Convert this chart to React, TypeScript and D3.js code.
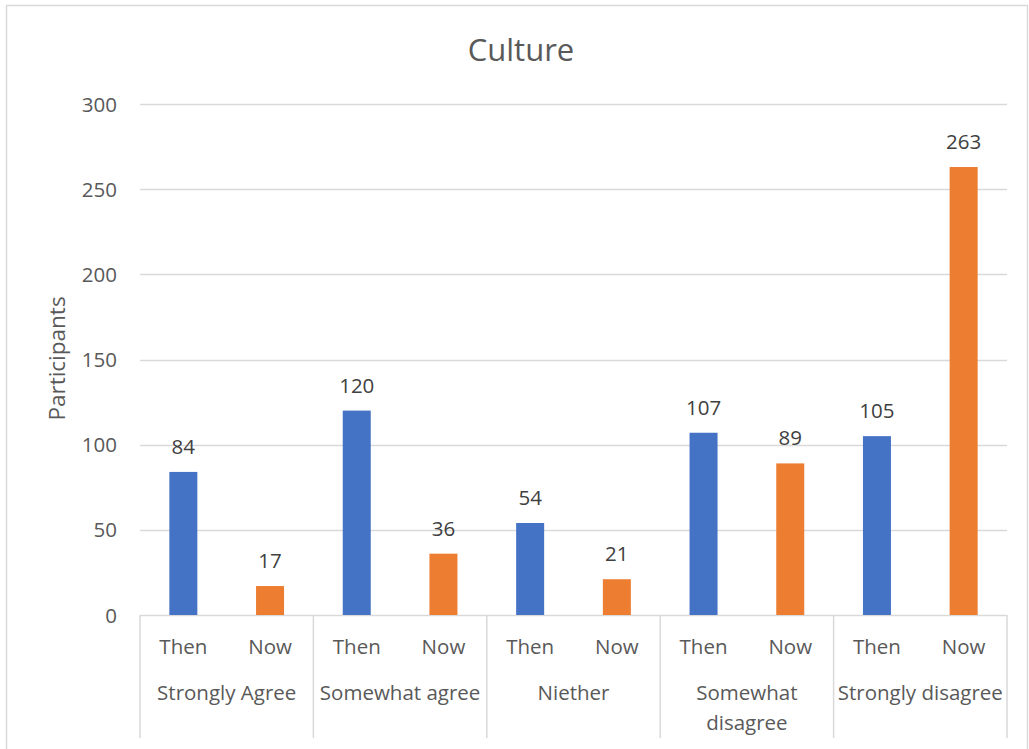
import React from "react";
import * as d3 from "d3";

const groups = ["Strongly Agree", "Somewhat agree", "Niether", "Somewhat disagree", "Strongly disagree"];
const groupLines = [["Strongly Agree"], ["Somewhat agree"], ["Niether"], ["Somewhat", "disagree"], ["Strongly disagree"]];
const periods = ["Then", "Now"];
const thenValues = [84, 120, 54, 107, 105];
const nowValues = [17, 36, 21, 89, 263];
const yTicks = [0, 50, 100, 150, 200, 250, 300];
const colors = { Then: "#4472C4", Now: "#ED7D31" };

const W = 1029;
const H = 749;
const FONT = "'Open Sans', sans-serif";
const TEXT = "#595959";
const GRID = "#d9d9d9";
const LABEL_SIZE = 20.5;

export default function App() {
  const left = 140;
  const right = 1007;
  const top = 104;
  const bottom = 615;

  const x0 = d3.scaleBand<string>().domain(groups).range([left, right]).padding(0);
  const x1 = d3.scaleBand<string>().domain(periods).range([0, x0.bandwidth()]).padding(0);
  const y = d3.scaleLinear().domain([0, 300]).range([bottom, top]);
  const barW = 28;

  const rows = groups.map((g, i) => ({ g, i, vals: [thenValues[i], nowValues[i]] }));

  return (
    <svg width={W} height={H} style={{ position: "absolute", left: 0, top: 0, background: "#fff" }}>
      <rect x={6.5} y={5.5} width={W - 8} height={H} fill="#fff" stroke={GRID} strokeWidth={1.5} />
      <text x={521} y={61} textAnchor="middle" fontFamily={FONT} fontSize={31} fill={TEXT}>
        Culture
      </text>
      {yTicks.map((t) => (
        <g key={t}>
          <line x1={left} x2={right} y1={Math.round(y(t)) + 0.5} y2={Math.round(y(t)) + 0.5} stroke={GRID} strokeWidth={1.5} />
          <text x={117} y={y(t) + 7.5} textAnchor="end" fontFamily={FONT} fontSize={LABEL_SIZE} fill={TEXT}>
            {t}
          </text>
        </g>
      ))}
      <text
        transform={`translate(65,358.5) rotate(-90)`}
        textAnchor="middle"
        fontFamily={FONT}
        fontSize={22.5}
        fill={TEXT}
      >
        Participants
      </text>
      {rows.map(({ g, i, vals }) =>
        periods.map((p, j) => {
          const cx = (x0(g) as number) + (x1(p) as number) + x1.bandwidth() / 2;
          const v = vals[j];
          return (
            <g key={g + p}>
              <rect x={cx - barW / 2} y={y(v)} width={barW} height={y(0) - y(v)} fill={colors[p as "Then" | "Now"]} />
              <text x={cx} y={y(v) - 18} textAnchor="middle" fontFamily={FONT} fontSize={LABEL_SIZE} fill="#404040">
                {v}
              </text>
              <text x={cx} y={654} textAnchor="middle" fontFamily={FONT} fontSize={LABEL_SIZE} fill={TEXT}>
                {p}
              </text>
            </g>
          );
        })
      )}
      {groups.concat([""]).map((g, i) => {
        const xx = i < groups.length ? (x0(g) as number) : right;
        return <line key={"sep" + i} x1={xx} x2={xx} y1={bottom} y2={738} stroke={GRID} strokeWidth={1.5} />;
      })}
      {rows.map(({ g, i }) => {
        const cx = (x0(g) as number) + x0.bandwidth() / 2;
        const lines = groupLines[i];
        return (
          <text key={"gl" + g} x={cx} y={700} textAnchor="middle" fontFamily={FONT} fontSize={LABEL_SIZE} fill={TEXT}>
            {lines.map((l, k) => (
              <tspan key={k} x={cx} dy={k === 0 ? 0 : 30}>
                {l}
              </tspan>
            ))}
          </text>
        );
      })}
    </svg>
  );
}
